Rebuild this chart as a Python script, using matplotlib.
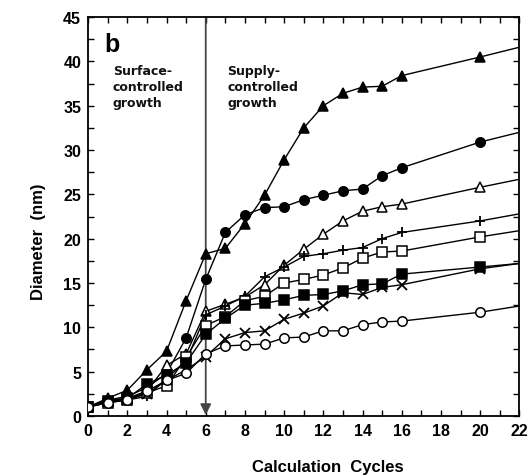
import numpy as np
import matplotlib.pyplot as plt
from matplotlib.ticker import MultipleLocator

plt.rcParams['font.family'] = ['Liberation Sans', 'DejaVu Sans']

# calculation cycles (last point only extends the line to the frame edge)
cycles = [0, 1, 2, 3, 4, 5, 6, 7, 8, 9, 10, 11, 12, 13, 14, 15, 16, 20, 22]

tri_filled = [1.0, 2.0, 2.9, 5.2, 7.3, 13.0, 18.3, 18.9, 21.7, 24.9, 28.9, 32.5,
              35.0, 36.4, 37.1, 37.2, 38.4, 40.5, 41.6]
circ_filled = [1.0, 1.8, 2.2, 3.2, 4.8, 8.8, 15.4, 20.7, 22.7, 23.5, 23.6, 24.4,
               24.9, 25.4, 25.6, 27.1, 28.0, 30.9, 32.0]
tri_open = [1.0, 1.7, 2.0, 2.8, 5.7, 7.0, 11.8, 12.6, 13.4, 14.8, 17.0, 18.8,
            20.5, 22.0, 23.1, 23.6, 23.9, 25.8, 26.7]
plus = [1.0, 1.5, 1.8, 2.2, 4.2, 6.2, 11.4, 12.4, 13.5, 15.7, 16.8, 18.0,
        18.3, 18.7, 19.0, 20.0, 20.7, 22.0, 22.8]
sq_open = [1.0, 1.5, 1.8, 2.6, 3.4, 6.6, 10.2, 11.2, 13.0, 13.5, 15.0, 15.4,
           15.9, 16.7, 17.8, 18.5, 18.6, 20.2, 20.9]
sq_filled = [1.0, 1.7, 2.0, 3.6, 4.6, 6.0, 9.2, 11.0, 12.5, 12.7, 13.1, 13.6,
             13.7, 14.1, 14.8, 14.9, 16.0, 16.8, 17.2]
cross = [1.0, 1.7, 1.8, 2.5, 4.0, 5.2, 6.7, 8.7, 9.4, 9.6, 10.9, 11.6,
         12.4, 13.9, 13.7, 14.5, 14.8, 16.6, 17.2]
circ_open = [1.0, 1.5, 1.8, 2.8, 4.0, 4.8, 7.0, 7.9, 8.0, 8.1, 8.8, 8.9,
             9.6, 9.6, 10.3, 10.6, 10.7, 11.7, 12.4]

series = [
    (tri_filled, '^', 'black'),
    (circ_filled, 'o', 'black'),
    (tri_open, '^', 'white'),
    (plus, '+', 'black'),
    (sq_open, 's', 'white'),
    (sq_filled, 's', 'black'),
    (cross, 'x', 'black'),
    (circ_open, 'o', 'white'),
]

fig = plt.figure(figsize=(5.31, 4.77), dpi=100)
ax = fig.add_axes([0.166, 0.126, 0.812, 0.836])

marks = list(range(len(cycles) - 1))
for vals, mk, fc in series:
    ax.plot(cycles, vals, color='black', lw=1.0, marker=mk, ms=6.8,
            mfc=fc, mec='black', mew=1.3 if mk in '+x' else 1.1,
            markevery=marks, zorder=3)

# boundary between growth regimes
ax.annotate('', xy=(6, 0.1), xytext=(6, 45),
            arrowprops=dict(arrowstyle='-|>', color='#444444', lw=1.3,
                            mutation_scale=16, shrinkA=0, shrinkB=0),
            zorder=2)

ax.text(0.85, 42.0, 'b', fontsize=18, fontweight='bold', va='center')
ax.text(1.25, 39.7, 'Surface-\ncontrolled\ngrowth', fontsize=9,
        family='DejaVu Sans', fontweight='bold', va='top', linespacing=1.3,
        color='#111111')
ax.text(7.1, 39.7, 'Supply-\ncontrolled\ngrowth', fontsize=9,
        family='DejaVu Sans', fontweight='bold', va='top', linespacing=1.3,
        color='#111111')

ax.set_xlim(0, 22)
ax.set_ylim(0, 45)
ax.xaxis.set_major_locator(MultipleLocator(2))
ax.xaxis.set_minor_locator(MultipleLocator(1))
ax.yaxis.set_major_locator(MultipleLocator(5))
ax.yaxis.set_minor_locator(MultipleLocator(2.5))
ax.tick_params(which='both', direction='in', top=True, right=True,
               length=4, width=1.0, labelsize=11.5)
ax.tick_params(which='major', pad=5)
for lab in ax.get_xticklabels() + ax.get_yticklabels():
    lab.set_fontweight('bold')
for sp in ax.spines.values():
    sp.set_linewidth(1.3)

ax.set_xlabel('Calculation  Cycles', fontsize=12, fontweight='bold', va='center')
ax.set_ylabel('Diameter  (nm)', fontsize=12, fontweight='bold', va='center')
ax.xaxis.set_label_coords(0.555, -0.128)
ax.yaxis.set_label_coords(-0.114, 0.44)

fig.savefig('out.png', dpi=100)
